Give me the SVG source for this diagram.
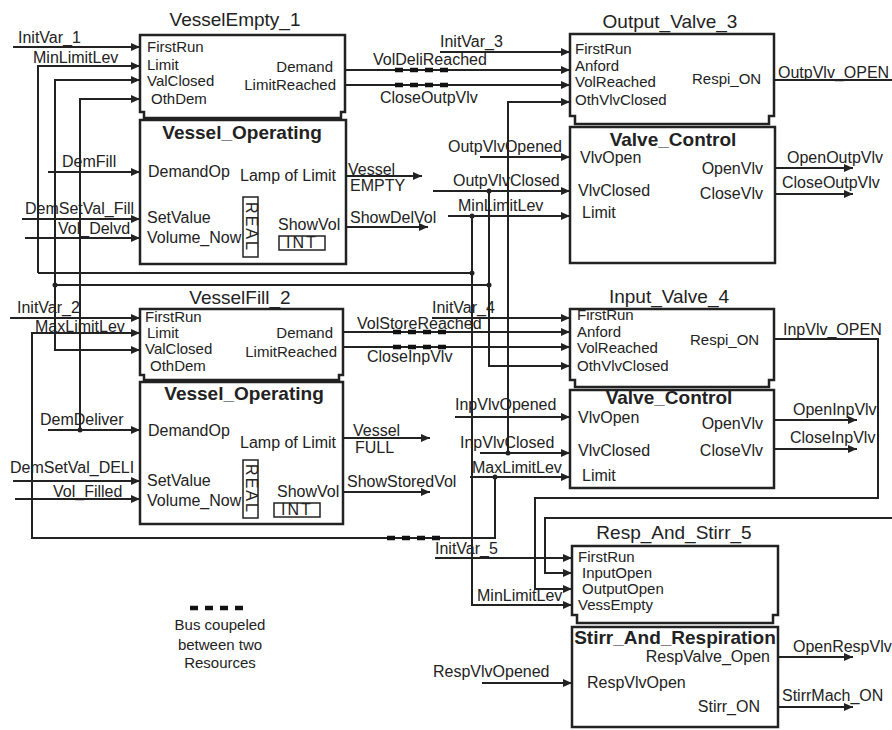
<svg xmlns="http://www.w3.org/2000/svg" width="892" height="730" viewBox="0 0 892 730">
<defs>
<marker id="ah" markerUnits="userSpaceOnUse" markerWidth="10" markerHeight="8" refX="9" refY="4" orient="auto">
<path d="M0,0 L9,4 L0,8 Z" fill="#222"/>
</marker>
<style>
text{font-family:"Liberation Sans",Arial,sans-serif;fill:#222;font-size:16px}
.p{font-size:15px}
.t{font-size:19px}
.b{font-size:19px;font-weight:bold}
.e{text-anchor:end}
.m{text-anchor:middle}
.box{fill:#fff;stroke:#222;stroke-width:2.5}
.w{fill:none;stroke:#222;stroke-width:2}
.a{marker-end:url(#ah)}
.bus{fill:none;stroke:#111;stroke-width:4.5;stroke-dasharray:8 7}
.dot{fill:#222}
.sm{fill:none;stroke:#222;stroke-width:1.5}
.lg{font-size:15px}
</style>
</defs>
<rect width="892" height="730" fill="#fff"/>

<g id="connectors">
<path class="w a" d="M13,47 H140"/>
<path class="w a" d="M38,273 V66 H140"/>
<path class="w a" d="M55,285 V80 H140"/>
<path class="w a" d="M55,285 V350 H140"/>
<path class="w a" d="M80,430 V99 H140"/>
<path class="w a" d="M48,172 H140"/>
<path class="w a" d="M22,219 H140"/>
<path class="w a" d="M25,238 H140"/>
<path class="w a" d="M346,176 H422"/>
<path class="w a" d="M346,227 H428"/>
<path class="w a" d="M345,70 H570"/>
<path class="w a" d="M345,85 H570"/>
<path class="w a" d="M440,52 H570"/>
<path class="w a" d="M508,453 V102 H570"/>
<path class="w a" d="M480,157 H570"/>
<path class="w a" d="M433,191 H570"/>
<path class="w a" d="M489,191 V366 H570"/>
<path class="w" d="M55,285 H489"/>
<path class="w" d="M38,273 H472"/>
<path class="w a" d="M448,216 H570"/>
<path class="w a" d="M472,216 V605 H572"/>
<path class="w" d="M774,80 H892"/>
<path class="w a" d="M775,168 H853"/>
<path class="w a" d="M775,194 H853"/>
<path class="w a" d="M10,318 H140"/>
<path class="w a" d="M495,477 V538 H32 V333 H140"/>
<path class="w a" d="M470,477 H570"/>
<path class="w a" d="M48,430 H140"/>
<path class="w a" d="M13,481 H140"/>
<path class="w a" d="M15,499 H140"/>
<path class="w a" d="M343,438 H430"/>
<path class="w a" d="M343,492 H430"/>
<path class="w a" d="M343,332 H570"/>
<path class="w a" d="M343,347 H570"/>
<path class="w a" d="M432,318 H570"/>
<path class="w a" d="M455,417 H570"/>
<path class="w a" d="M480,453 H570"/>
<path class="w a" d="M774,339 H878 V498 H535 V589 H572"/>
<path class="w a" d="M892,518 H545 V573 H572"/>
<path class="w a" d="M774,420 H857"/>
<path class="w a" d="M774,449 H857"/>
<path class="w a" d="M435,558 H572"/>
<path class="w a" d="M482,683 H572"/>
<path class="w a" d="M778,657 H853"/>
<path class="w a" d="M778,707 H853"/>
<path class="bus" d="M395,70 H450"/>
<path class="bus" d="M395,85 H450"/>
<path class="bus" d="M393,332 H450"/>
<path class="bus" d="M393,347 H450"/>
<path class="bus" d="M387,538 H443"/>
<circle class="dot" cx="55" cy="285" r="2.5"/>
<circle class="dot" cx="80" cy="430" r="2.5"/>
<circle class="dot" cx="472" cy="273" r="2.5"/>
<circle class="dot" cx="472" cy="216" r="2.5"/>
<circle class="dot" cx="489" cy="285" r="2.5"/>
<circle class="dot" cx="489" cy="191" r="2.5"/>
<circle class="dot" cx="508" cy="453" r="2.5"/>
<circle class="dot" cx="495" cy="477" r="2.5"/>
</g>

<g id="wire-labels">
<text x="18" y="43">InitVar_1</text>
<text x="33" y="63">MinLimitLev</text>
<text x="62" y="167">DemFill</text>
<text x="25" y="214">DemSetVal_Fill</text>
<text x="58" y="234">Vol_Delvd</text>
<text x="348" y="175">Vessel</text>
<text x="350" y="191">EMPTY</text>
<text x="350" y="223">ShowDelVol</text>
<text x="373" y="65">VolDeliReached</text>
<text x="380" y="103">CloseOutpVlv</text>
<text x="440" y="47">InitVar_3</text>
<text x="778" y="78">OutpVlv_OPEN</text>
<text x="448" y="152">OutpVlvOpened</text>
<text x="453" y="186">OutpVlvClosed</text>
<text x="458" y="211">MinLimitLev</text>
<text x="787" y="163">OpenOutpVlv</text>
<text x="782" y="188">CloseOutpVlv</text>
<text x="17" y="313">InitVar_2</text>
<text x="35" y="332">MaxLimitLev</text>
<text x="357" y="329">VolStoreReached</text>
<text x="367" y="362">CloseInpVlv</text>
<text x="432" y="313">InitVar_4</text>
<text x="353" y="436">Vessel</text>
<text x="355" y="453">FULL</text>
<text x="347" y="487">ShowStoredVol</text>
<text x="40" y="425">DemDeliver</text>
<text x="10" y="473">DemSetVal_DELI</text>
<text x="53" y="497">Vol_Filled</text>
<text x="783" y="335">InpVlv_OPEN</text>
<text x="793" y="415">OpenInpVlv</text>
<text x="790" y="443">CloseInpVlv</text>
<text x="455" y="410">InpVlvOpened</text>
<text x="460" y="448">InpVlvClosed</text>
<text x="472" y="473">MaxLimitLev</text>
<text x="435" y="554">InitVar_5</text>
<text x="477" y="601">MinLimitLev</text>
<text x="793" y="652">OpenRespVlv</text>
<text x="782" y="701">StirrMach_ON</text>
<text x="433" y="677">RespVlvOpened</text>
</g>

<g id="VesselEmpty_1">
<text class="t m" x="235" y="26">VesselEmpty_1</text>
<path class="box" d="M140,35 H345 V112 H341 V118 H144 V112 H140 Z"/>
<rect class="box" x="140" y="120" width="206" height="144"/>
<text class="p" x="147" y="52">FirstRun</text>
<text class="p" x="147" y="70">Limit</text>
<text class="p" x="147" y="86">ValClosed</text>
<text class="p" x="151" y="104">OthDem</text>
<text class="p e" x="333" y="72">Demand</text>
<text class="p e" x="336" y="90">LimitReached</text>
<text class="b m" x="242" y="139">Vessel_Operating</text>
<text x="148" y="177">DemandOp</text>
<text x="240" y="181">Lamp of Limit</text>
<text x="147" y="223">SetValue</text>
<text x="147" y="243">Volume_Now</text>
<text x="278" y="230">ShowVol</text>
<rect class="sm" x="243" y="197" width="15" height="60"/>
<text class="m" font-size="14" transform="translate(250.5,227) rotate(90)" x="0" y="5" letter-spacing="2">REAL</text>
<rect class="sm" x="279" y="236" width="46" height="14"/>
<text class="m" x="302" y="248" font-size="12" letter-spacing="2">INT</text>
</g>

<g id="Output_Valve_3">
<text class="t m" x="670" y="28">Output_Valve_3</text>
<path class="box" d="M570,34 H774 V116 H769 V124 H575 V116 H570 Z"/>
<rect class="box" x="570" y="127" width="205" height="136"/>
<text class="p" x="575" y="54">FirstRun</text>
<text class="p" x="575" y="71">Anford</text>
<text class="p" x="575" y="87">VolReached</text>
<text class="p" x="575" y="105">OthVlvClosed</text>
<text class="p" x="692" y="84">Respi_ON</text>
<text class="b m" x="673" y="146">Valve_Control</text>
<text x="580" y="163">VlvOpen</text>
<text x="578" y="196">VlvClosed</text>
<text x="582" y="218">Limit</text>
<text class="e" x="763" y="174">OpenVlv</text>
<text class="e" x="763" y="199">CloseVlv</text>
</g>

<g id="VesselFill_2">
<text class="t m" x="240" y="304">VesselFill_2</text>
<path class="box" d="M140,309 H343 V375 H339 V380 H144 V375 H140 Z"/>
<rect class="box" x="140" y="382" width="203" height="142"/>
<text class="p" x="145" y="322">FirstRun</text>
<text class="p" x="147" y="338">Limit</text>
<text class="p" x="145" y="354">ValClosed</text>
<text class="p" x="150" y="371">OthDem</text>
<text class="p e" x="333" y="338">Demand</text>
<text class="p e" x="337" y="357">LimitReached</text>
<text class="b m" x="244" y="400">Vessel_Operating</text>
<text x="148" y="436">DemandOp</text>
<text x="240" y="448">Lamp of Limit</text>
<text x="147" y="486">SetValue</text>
<text x="147" y="506">Volume_Now</text>
<text x="277" y="497">ShowVol</text>
<rect class="sm" x="243" y="460" width="15" height="58"/>
<text class="m" font-size="14" transform="translate(250.5,489) rotate(90)" x="0" y="5" letter-spacing="2">REAL</text>
<rect class="sm" x="274" y="503" width="46" height="14"/>
<text class="m" x="297" y="515" font-size="12" letter-spacing="2">INT</text>
</g>

<g id="Input_Valve_4">
<text class="t m" x="669" y="303">Input_Valve_4</text>
<path class="box" d="M570,309 H774 V380 H769 V387 H575 V380 H570 Z"/>
<rect class="box" x="570" y="390" width="204" height="98"/>
<text class="p" x="577" y="320">FirstRun</text>
<text class="p" x="577" y="337">Anford</text>
<text class="p" x="577" y="353">VolReached</text>
<text class="p" x="577" y="371">OthVlvClosed</text>
<text class="p" x="690" y="345">Respi_ON</text>
<text class="b m" x="669" y="404">Valve_Control</text>
<text x="578" y="423">VlvOpen</text>
<text x="578" y="456">VlvClosed</text>
<text x="582" y="481">Limit</text>
<text class="e" x="763" y="429">OpenVlv</text>
<text class="e" x="763" y="456">CloseVlv</text>
</g>

<g id="Resp_And_Stirr_5">
<text class="t m" x="674" y="539">Resp_And_Stirr_5</text>
<path class="box" d="M572,546 H778 V615 H773 V623 H577 V615 H572 Z"/>
<rect class="box" x="572" y="627" width="206" height="100"/>
<text class="p" x="578" y="562">FirstRun</text>
<text class="p" x="582" y="578">InputOpen</text>
<text class="p" x="582" y="594">OutputOpen</text>
<text class="p" x="578" y="610">VessEmpty</text>
<text class="b m" x="675" y="644">Stirr_And_Respiration</text>
<text class="e" x="770" y="662">RespValve_Open</text>
<text x="587" y="688">RespVlvOpen</text>
<text class="e" x="760" y="712">Stirr_ON</text>
</g>

<g id="legend">
<path class="bus" d="M190,608 H245"/>
<text class="lg m" x="220" y="630">Bus coupeled</text>
<text class="lg m" x="220" y="650">between two</text>
<text class="lg m" x="220" y="668">Resources</text>
</g>
</svg>
